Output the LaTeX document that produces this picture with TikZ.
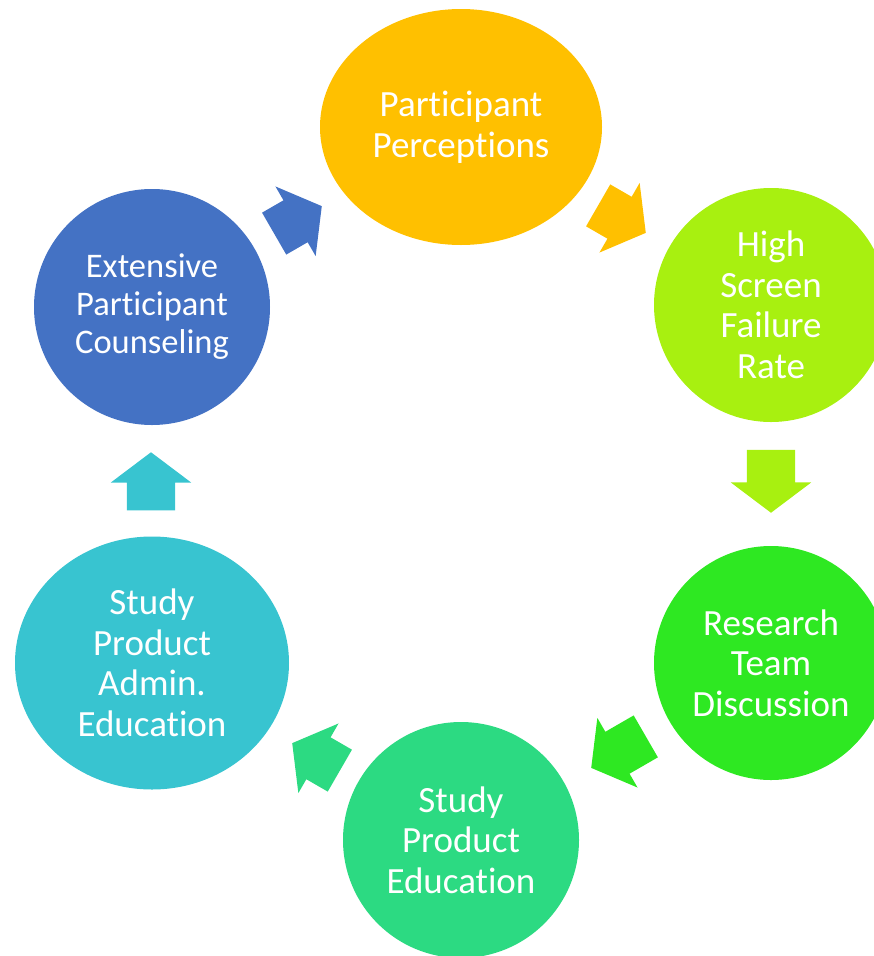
\documentclass[tikz,border=0pt]{standalone}
\usepackage{fontspec}
\setmainfont{Carlito}[Ligatures={NoCommon}]
\usetikzlibrary{shapes.geometric,shapes.arrows}

\definecolor{cgold}{RGB}{255,192,0}
\definecolor{clime}{RGB}{168,240,16}
\definecolor{cgreen}{RGB}{46,232,34}
\definecolor{cmint}{RGB}{44,218,130}
\definecolor{ccyan}{RGB}{56,196,208}
\definecolor{cblue}{RGB}{68,114,196}

\begin{document}
\begin{tikzpicture}[x=1pt,y=-1pt,
    stage/.style={ellipse, inner sep=0pt, text=white, align=center},
    blockarrow/.style={single arrow, draw=none, inner xsep=0pt, inner ysep=24pt,
        single arrow head extend=16pt, single arrow tip angle=106, anchor=tip}]
    % Рамка
    \useasboundingbox (0,0) rectangle (874,956);
    \clip (0,0) rectangle (874,956);

    % Этапы
    \foreach \nm/\cx/\cy/\w/\h/\col/\fs/\bs/\txt in {
        pp/461/127/282/236/cgold/37/40.5/{Participant\\Perceptions},
        hsf/771/305/234/234/clime/37/40.5/{High\\Screen\\Failure\\Rate},
        rtd/771/663/234/234/cgreen/37/40.5/{Research\\Team\\Discussion},
        spe/461/840/236/236/cmint/37/40.5/{Study\\Product\\Education},
        spa/152/663/274/253/ccyan/37/40.5/{Study\\Product\\Admin.\\Education},
        epc/152/307/236/236/cblue/34.5/38/{Extensive\\Participant\\Counseling}}
    {
        \node[stage, fill=\col, minimum width=\w pt, minimum height=\h pt,
            font=\fontsize{\fs}{\bs}\selectfont] (\nm) at (\cx,\cy) {\txt};
    }

    % Стрелки (по острию)
    \foreach \nm/\tx/\ty/\ang/\len/\col in {
        a1/322/206/30/55/cblue,
        a2/646/233/-30/55/cgold,
        a3/771/513/-90/63/clime,
        a4/591/768/210/63/cgreen,
        a5/292/743/150/55/cmint,
        a6/151/452/90/58/ccyan}
    {
        \node[blockarrow, fill=\col, minimum height=\len pt, rotate=\ang]
            (\nm) at (\tx,\ty) {};
    }
\end{tikzpicture}
\end{document}
